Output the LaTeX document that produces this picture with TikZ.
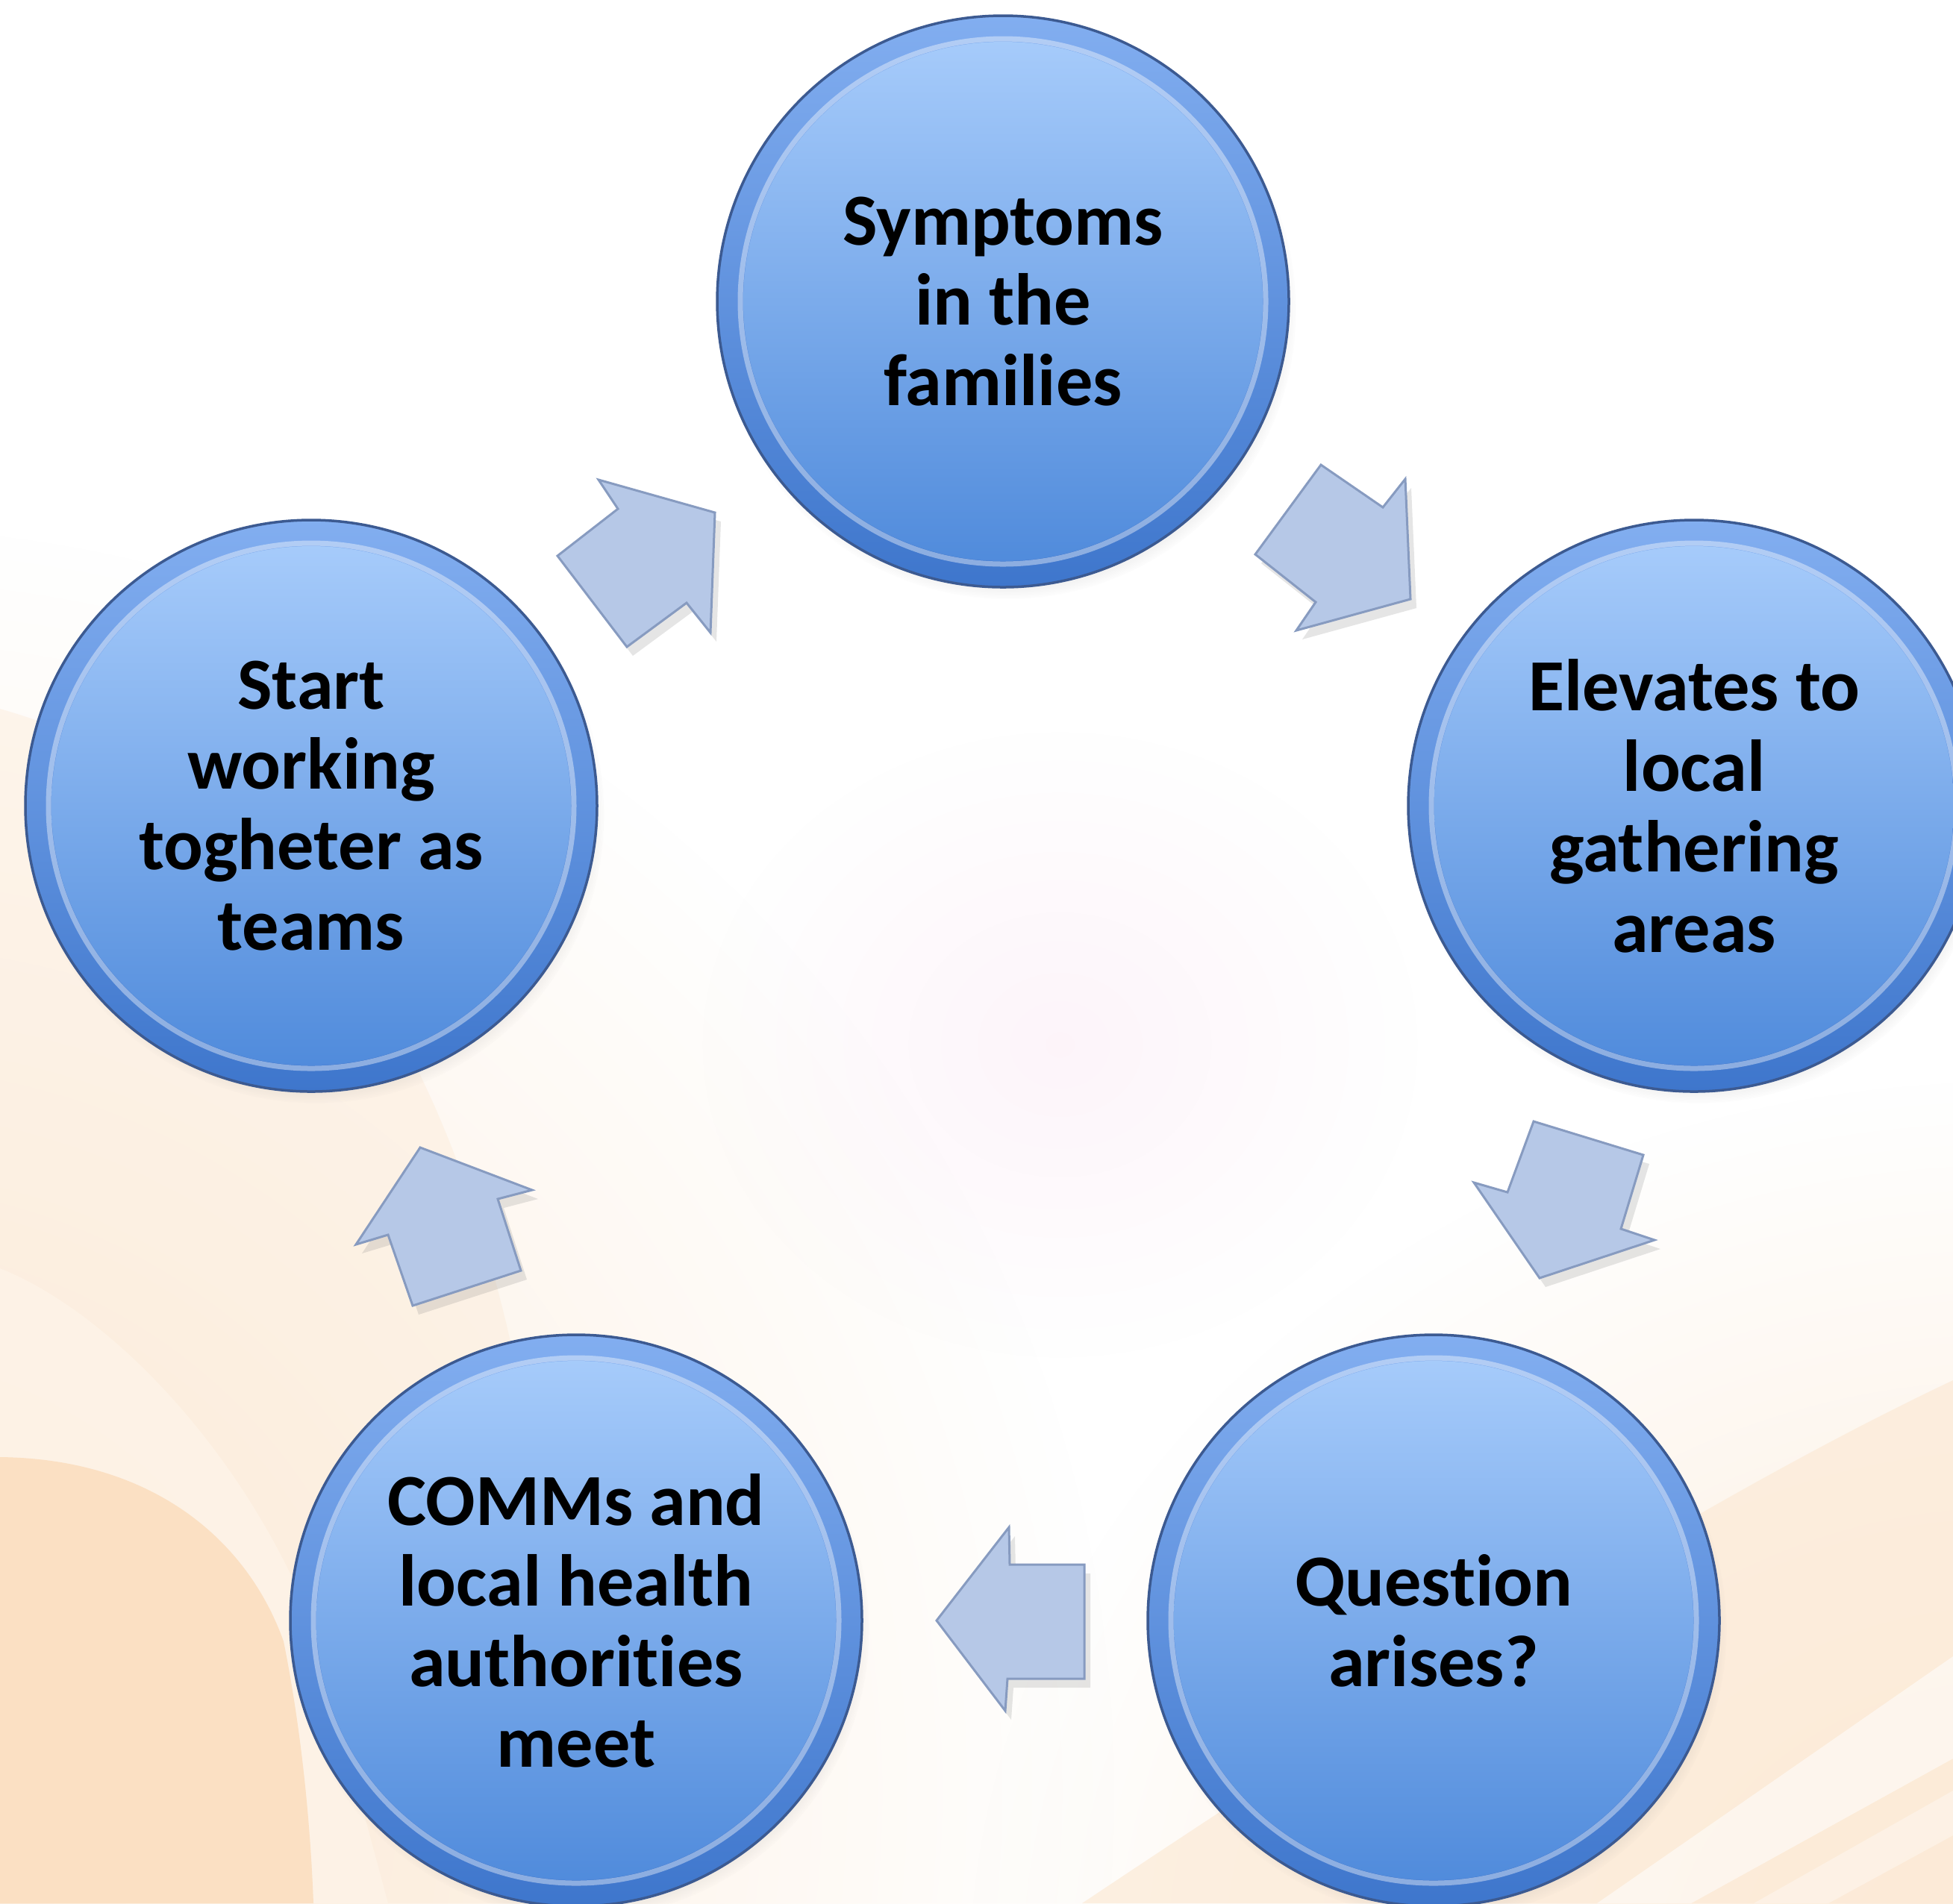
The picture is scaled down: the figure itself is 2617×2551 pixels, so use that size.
\documentclass[tikz,border=0pt]{standalone}
\usepackage{fontspec}
\setmainfont{Carlito}[Ligatures={NoCommon}]
\usetikzlibrary{shadows,fadings}
\definecolor{peachA}{RGB}{252,234,214}
\definecolor{peachB}{RGB}{251,224,195}
\definecolor{creamband}{RGB}{254,244,232}
\definecolor{ballout1}{RGB}{130,174,240}
\definecolor{ballout2}{RGB}{62,118,204}
\definecolor{ballin1}{RGB}{170,206,252}
\definecolor{ballin2}{RGB}{76,136,218}
\definecolor{ballline}{RGB}{60,90,145}
\definecolor{arrfill}{RGB}{182,200,231}
\definecolor{arrline}{RGB}{135,155,192}
\definecolor{faintpink}{RGB}{250,225,240}
\tikzfading[name=softfade, inner color=transparent!0, outer color=transparent!100]
\begin{document}
\begin{tikzpicture}[x=0.1mm,y=-0.1mm,
  ball/.style={circle, minimum size=76.6mm, inner sep=0pt,
    top color=ballout1, bottom color=ballout2, draw=ballline, line width=0.35mm,
    circular drop shadow={shadow xshift=0.6mm, shadow yshift=-1.2mm, opacity=0.35, shadow scale=1.01},
    path picture={
      \shade[top color=ballin1, bottom color=ballin2] (path picture bounding box.center) circle[radius=34.8mm];
      \draw[white, opacity=0.4, line width=0.7mm] (path picture bounding box.center) circle[radius=35.2mm];
    },
    font=\fontsize{28}{30.7}\selectfont\bfseries, align=center, text=black},
  blockarrow/.style={fill=arrfill, draw=arrline, line width=0.3mm, line join=miter,
    drop shadow={shadow xshift=0.8mm, shadow yshift=-1.2mm, opacity=0.2}}
]
\useasboundingbox (0,0) rectangle (2617,2551);
\clip (0,0) rectangle (2617,2551);
% ---------- background ----------
\fill[white] (0,0) rectangle (2617,2551);
\fill[peachA, path fading=softfade] (-200,2400) ellipse (1700 and 1700);
\fill[peachA, path fading=softfade] (2700,2650) ellipse (1400 and 1200);
\fill[peachA, opacity=0.4] (0,950) .. controls (450,1080) and (750,1500) .. (760,2551) -- (0,2551) -- cycle;
\fill[creamband, opacity=0.8] (0,1700) .. controls (150,1760) and (330,1950) .. (420,2180) -- (520,2551) -- (420,2551) .. controls (415,2420) and (400,2300) .. (380,2200) .. controls (250,2020) and (120,1955) .. (0,1953) -- cycle;
\fill[peachB] (0,1953) .. controls (200,1955) and (330,2060) .. (380,2200) .. controls (400,2300) and (415,2420) .. (420,2551) -- (0,2551) -- cycle;
\fill[peachA, opacity=0.7] (1450,2551) .. controls (1900,2250) and (2300,2000) .. (2617,1850) -- (2617,2551) -- cycle;
\fill[white, opacity=0.55] (2140,2551) -- (2617,2220) -- (2617,2357) -- (2266,2551) -- cycle;
\fill[white, opacity=0.35] (2350,2551) -- (2617,2400) -- (2617,2460) -- (2450,2551) -- cycle;
\fill[faintpink, opacity=0.35, path fading=softfade] (1420,1400) ellipse (480 and 420);
% ---------- circles ----------
\node[ball] (symptoms) at (1344,404) {Symptoms\\in the\\families};
\node[ball] (elevates) at (2270,1080) {Elevates to\\local\\gathering\\areas};
\node[ball] (question) at (1921,2172) {Question\\arises?};
\node[ball] (comms) at (772,2172) {COMMs and\\local health\\authorities\\meet};
\node[ball] (start) at (417,1080) {Start\\working\\togheter as\\teams};
% ---------- block arrows ----------
\path[blockarrow] (802,643) -- (828,682) -- (747,745) -- (840,867) -- (920,808) -- (952,848) -- (958,687) -- cycle;
\path[blockarrow] (1770,623) -- (1853,680) -- (1883,642) -- (1890,803) -- (1737,845) -- (1763,807) -- (1682,743) -- cycle;
\path[blockarrow] (2055,1503) -- (2202,1548) -- (2172,1647) -- (2217,1662) -- (2063,1713) -- (1975,1585) -- (2020,1598) -- cycle;
\path[blockarrow] (1453,2097) -- (1453,2250) -- (1350,2250) -- (1347,2293) -- (1255,2172) -- (1352,2047) -- (1353,2097) -- cycle;
\path[blockarrow] (698,1703) -- (553,1750) -- (520,1655) -- (477,1668) -- (563,1538) -- (713,1595) -- (667,1607) -- cycle;
\end{tikzpicture}
\end{document}
